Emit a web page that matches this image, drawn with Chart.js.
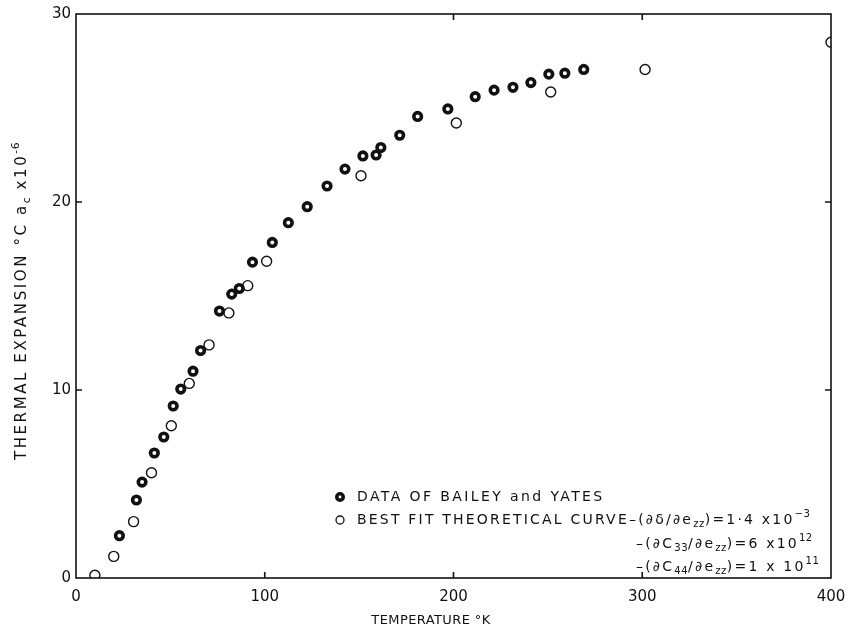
<!DOCTYPE html>
<html>
<head>
<meta charset="utf-8">
<script src="https://cdn.jsdelivr.net/npm/chart.js@4.4.1/dist/chart.umd.min.js"></script>
<style>
  html, body { margin: 0; padding: 0; background: #fff; }
</style>
</head>
<body>
<canvas id="myChart" width="849" height="634"></canvas>
<script>
// data of Bailey and Yates (filled dots)
const baileyTemp = [23, 32, 35, 41.5, 46.5, 51.5, 55.5, 62, 66, 76, 82.5, 86.5, 93.5, 104, 112.5,
  122.5, 133, 142.5, 152, 159, 161.5, 171.5, 181, 197, 211.5, 221.5, 231.5, 241, 250.5, 259, 269];
const baileyExp = [2.25, 4.15, 5.1, 6.65, 7.5, 9.15, 10.05, 11.0, 12.1, 14.2, 15.1, 15.4, 16.8, 17.85, 18.9,
  19.75, 20.85, 21.75, 22.45, 22.5, 22.9, 23.55, 24.55, 24.95, 25.6, 25.95, 26.1, 26.35, 26.8, 26.85, 27.05];

// best fit theoretical curve (open circles)
const fitTemp = [10, 20, 30.5, 40, 50.5, 60, 70.5, 81, 91, 101, 151, 201.5, 251.5, 301.5, 400];
const fitExp = [0.15, 1.15, 3.0, 5.6, 8.1, 10.35, 12.4, 14.1, 15.55, 16.85, 21.4, 24.2, 25.85, 27.05, 28.5];

const xTicks = [0, 100, 200, 300, 400];
const yTicks = [0, 10, 20, 30];
// small inward marks on the frame
const bottomMarks = [100, 200, 300];
const topMarks = [200, 300];
const sideMarks = [10, 20];

const FONT = '"DejaVu Sans"';
const INK = '#111';

// text with subscripts / superscripts, parts = [[text, 'sub'|'sup'|null], ...]
function richWidth(ctx, parts, size, spacing) {
    let w = 0;
    parts.forEach(([txt, kind]) => {
        ctx.font = (kind ? size * 0.72 : size) + 'px ' + FONT;
        ctx.letterSpacing = (kind ? 0.5 : spacing) + 'px';
        w += ctx.measureText(txt).width;
    });
    return w;
}

function drawRich(ctx, parts, x, y, size, spacing) {
    let cx = x;
    parts.forEach(([txt, kind]) => {
        const s = kind ? size * 0.72 : size;
        const dy = kind === 'sub' ? size * 0.32 : kind === 'sup' ? -size * 0.42 : 0;
        ctx.font = s + 'px ' + FONT;
        ctx.letterSpacing = (kind ? 0.5 : spacing) + 'px';
        ctx.fillText(txt, cx, y + dy);
        cx += ctx.measureText(txt).width;
    });
}

const framePlugin = {
    id: 'frame',
    afterDatasetsDraw(chart) {
        const { ctx, chartArea: a, scales: { x, y } } = chart;
        ctx.save();
        ctx.strokeStyle = INK;
        ctx.lineWidth = 1.6;
        ctx.strokeRect(a.left, a.top, a.right - a.left, a.bottom - a.top);
        ctx.beginPath();
        bottomMarks.forEach(v => {
            const px = x.getPixelForValue(v);
            ctx.moveTo(px, a.bottom); ctx.lineTo(px, a.bottom - 6);
        });
        topMarks.forEach(v => {
            const px = x.getPixelForValue(v);
            ctx.moveTo(px, a.top); ctx.lineTo(px, a.top + 6);
        });
        sideMarks.forEach(v => {
            const py = y.getPixelForValue(v);
            ctx.moveTo(a.left, py); ctx.lineTo(a.left + 6, py);
            ctx.moveTo(a.right, py); ctx.lineTo(a.right - 6, py);
        });
        ctx.stroke();
        ctx.restore();
    }
};

const labelPlugin = {
    id: 'labels',
    afterDraw(chart) {
        const ctx = chart.ctx;
        ctx.save();
        ctx.fillStyle = INK;
        ctx.textBaseline = 'middle';
        ctx.textAlign = 'left';

        // axis titles
        const xt = [['TEMPERATURE °K', null]];
        drawRich(ctx, xt, 431 - richWidth(ctx, xt, 13, 0.4) / 2, 621, 13, 0.4);

        const yt = [['THERMAL EXPANSION °C a', null], ['c', 'sub'], [' x10', null], ['-6', 'sup']];
        ctx.save();
        ctx.translate(22, 301);
        ctx.rotate(-Math.PI / 2);
        drawRich(ctx, yt, -richWidth(ctx, yt, 15, 2.6) / 2, 0, 15, 2.6);
        ctx.restore();

        // legend
        const ds = chart.data.datasets;
        ctx.lineWidth = ds[0].pointBorderWidth;
        ctx.strokeStyle = INK;
        ctx.fillStyle = '#fff';
        ctx.beginPath();
        ctx.arc(340, 497, ds[0].pointRadius - 0.6, 0, Math.PI * 2);
        ctx.fill(); ctx.stroke();
        ctx.lineWidth = 1.3;
        ctx.beginPath();
        ctx.arc(340, 520, 4, 0, Math.PI * 2);
        ctx.fill(); ctx.stroke();

        ctx.fillStyle = INK;
        drawRich(ctx, [['DATA OF BAILEY and YATES', null]], 357, 497, 14, 2.4);
        drawRich(ctx, [['BEST FIT THEORETICAL CURVE–(∂δ/∂e', null], ['zz', 'sub'], [')=1·4 x10', null], ['−3', 'sup']], 357, 520, 14, 2.2);
        drawRich(ctx, [['–(∂C', null], ['33', 'sub'], ['/∂e', null], ['zz', 'sub'], [')=6 x10', null], ['12', 'sup']], 636, 544, 14, 2.2);
        drawRich(ctx, [['–(∂C', null], ['44', 'sub'], ['/∂e', null], ['zz', 'sub'], [')=1 x 10', null], ['11', 'sup']], 636, 567, 14, 2.2);
        ctx.restore();
    }
};

const ctx = document.getElementById('myChart').getContext('2d');
const myChart = new Chart(ctx, {
    type: 'scatter',
    data: {
        datasets: [{
            label: 'DATA OF BAILEY and YATES',
            data: baileyTemp.map((t, i) => ({ x: t, y: baileyExp[i] })),
            pointRadius: 3.8,
            pointBorderWidth: 3.6,
            pointBackgroundColor: '#fff',
            pointBorderColor: INK
        }, {
            label: 'BEST FIT THEORETICAL CURVE',
            data: fitTemp.map((t, i) => ({ x: t, y: fitExp[i] })),
            pointRadius: 5,
            pointBorderWidth: 1.4,
            pointBackgroundColor: '#fff',
            pointBorderColor: INK
        }]
    },
    options: {
        responsive: false,
        animation: false,
        layout: { padding: { top: 14, right: 18, left: 0, bottom: 0 } },
        plugins: { legend: { display: false }, tooltip: { enabled: false } },
        scales: {
            x: {
                type: 'linear', min: 0, max: 400,
                afterBuildTicks: s => { s.ticks = xTicks.map(v => ({ value: v })); },
                afterFit: s => { s.height = 56; s.paddingLeft = 0; s.paddingRight = 0; },
                grid: { display: false, drawTicks: false },
                border: { display: false },
                ticks: { color: INK, font: { family: 'DejaVu Sans', size: 15 }, padding: 10, maxRotation: 0 }
            },
            y: {
                type: 'linear', min: 0, max: 30,
                afterBuildTicks: s => { s.ticks = yTicks.map(v => ({ value: v })); },
                afterFit: s => { s.width = 76; s.paddingTop = 0; s.paddingBottom = 0; },
                grid: { display: false, drawTicks: false },
                border: { display: false },
                ticks: { color: INK, font: { family: 'DejaVu Sans', size: 15 }, padding: 5 }
            }
        }
    },
    plugins: [framePlugin, labelPlugin]
});
</script>
</body>
</html>
